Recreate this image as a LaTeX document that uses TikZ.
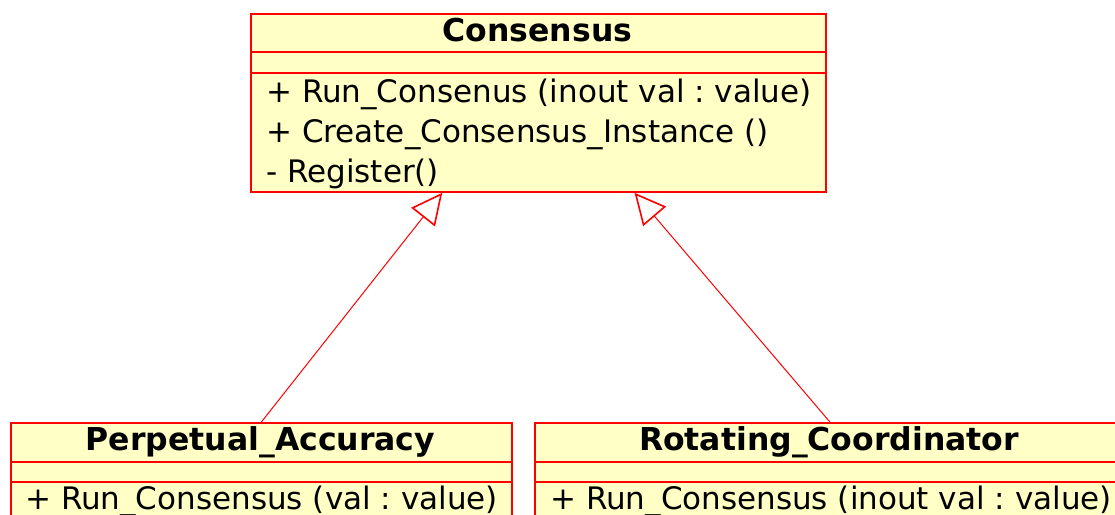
\documentclass[tikz,border=0pt]{standalone}
\usepackage{fontspec}
\setmainfont{DejaVu Sans}
\frenchspacing
\usetikzlibrary{arrows.meta,calc}
\definecolor{umlfill}{RGB}{255,255,198}
\definecolor{umlline}{RGB}{255,0,0}
\tikzset{
  classbox/.style={draw=umlline, fill=umlfill, line width=1.8pt, anchor=north west, inner sep=0pt},
  classname/.style={font=\fontsize{31.5}{36}\selectfont\bfseries, anchor=base, inner sep=0pt},
  member/.style={font=\fontsize{31}{36}\selectfont, anchor=base west, inner sep=0pt},
  divider/.style={draw=umlline, line width=1.8pt},
  inherit/.style={draw=umlline, line width=1pt,
    -{Triangle[open, length=31pt, width=30pt, line width=1.6pt, fill=white]}},
}
\begin{document}
\begin{tikzpicture}[x=1pt,y=-1pt]
\useasboundingbox (0,0) rectangle (1115,514);

% Consensus class
\node[classbox, minimum width=575pt, minimum height=178pt] (cons) at (250,13) {};
\draw[divider] ([yshift=-39pt]cons.north west) -- ([yshift=-39pt]cons.north east);
\draw[divider] ([yshift=-60pt]cons.north west) -- ([yshift=-60pt]cons.north east);
\node[classname] (consT) at (537.5,41.5) {Consensus};
\node[member] (consM1) at (266,102) {+ Run\_Consenus (inout val : value)};
\node[member] (consM2) at (266,142) {+ Create\_Consensus\_Instance ()};
\node[member] (consM3) at (266,182) {- Register()};

% Perpetual_Accuracy class
\node[classbox, minimum width=501pt, minimum height=160pt] (perp) at (10,422) {};
\draw[divider] ([yshift=-40pt]perp.north west) -- ([yshift=-40pt]perp.north east);
\draw[divider] ([yshift=-60pt]perp.north west) -- ([yshift=-60pt]perp.north east);
\node[classname] (perpT) at (260.5,450) {Perpetual\_Accuracy};
\node[member] (perpM1) at (25,509) {+ Run\_Consensus (val : value)};

% Rotating_Coordinator class
\node[classbox, minimum width=590pt, minimum height=160pt] (rot) at (534,422) {};
\draw[divider] ([yshift=-40pt]rot.north west) -- ([yshift=-40pt]rot.north east);
\draw[divider] ([yshift=-60pt]rot.north west) -- ([yshift=-60pt]rot.north east);
\node[classname] (rotT) at (829,450) {Rotating\_Coordinator};
\node[member] (rotM1) at (550,509) {+ Run\_Consensus (inout val : value)};

% generalization arrows
\coordinate (consL) at ($(cons.south west)!1/3!(cons.south east)$);
\coordinate (consR) at ($(cons.south west)!2/3!(cons.south east)$);
\draw[inherit] (perp.north) -- (consL);
\draw[inherit] (rot.north) -- (consR);
\end{tikzpicture}
\end{document}
